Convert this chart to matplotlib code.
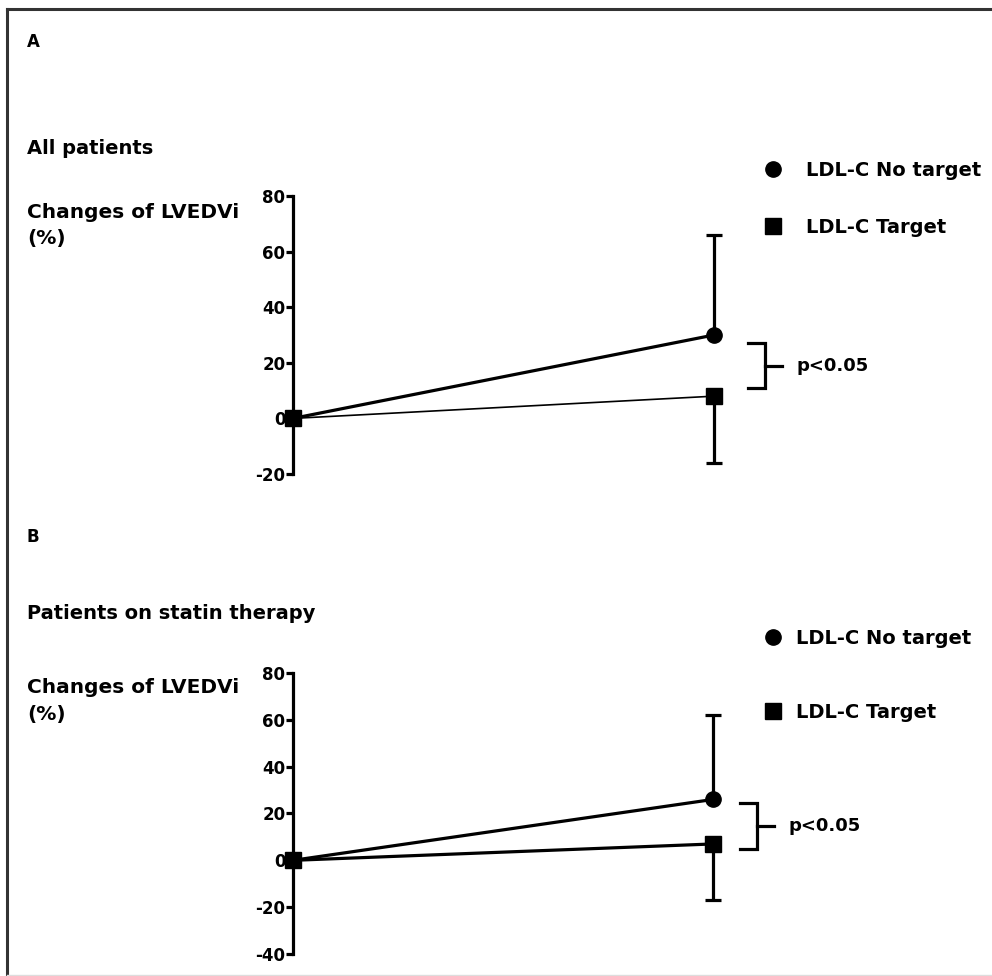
import matplotlib
matplotlib.use("Agg")
import matplotlib.pyplot as plt
from matplotlib.lines import Line2D

# data (% change of LVEDVi, baseline -> follow-up)
timepoints = [0, 1]
labels = ["LDL-C No target", "LDL-C Target"]

a_notarget = [0, 30]
a_notarget_upper = 66      # top of error bar at follow-up
a_target = [0, 8]
a_target_lower = -16       # bottom of error bar at follow-up

b_notarget = [0, 26]
b_notarget_upper = 62
b_target = [0, 7]
b_target_lower = -17

a_ticks = [-20, 0, 20, 40, 60, 80]
b_ticks = [-40, -20, 0, 20, 40, 60, 80]

W, H = 992, 976
plt.rcParams["font.family"] = ["DejaVu Sans"]
plt.rcParams["font.weight"] = "bold"
plt.rcParams["axes.unicode_minus"] = False
fig = plt.figure(figsize=(W / 100, H / 100), dpi=100)


def px_axes(left, right, top, bottom):
    # build axes from pixel positions (top-left origin)
    return fig.add_axes([left / W, 1 - bottom / H, (right - left) / W, (bottom - top) / H])


def ftext(x, y, s, size, **kw):
    fig.text(x / W, 1 - y / H, s, fontsize=size, fontweight="bold", va="baseline", ha="left", **kw)


def draw_panel(ax, nt, nt_up, tg, tg_low, ticks, tg_lw, brk_x, brk_y, ptext_x):
    ax.plot(timepoints, nt, color="black", lw=2.3, marker="o", ms=11, clip_on=False, zorder=4)
    ax.plot(timepoints, tg, color="black", lw=tg_lw, marker="s", ms=12, clip_on=False, zorder=5)
    # one-sided error bars (GraphPad style)
    ax.vlines(timepoints[1], nt[1], nt_up, color="black", lw=2.3, clip_on=False, zorder=3)
    ax.vlines(timepoints[1], tg_low, tg[1], color="black", lw=2.3, clip_on=False, zorder=3)
    ax.plot([timepoints[1]], [nt_up], marker="_", ms=12, mew=2.3, color="black", clip_on=False)
    ax.plot([timepoints[1]], [tg_low], marker="_", ms=12, mew=2.3, color="black", clip_on=False)

    # significance bracket
    x0, x1, x2 = brk_x
    y0, y1 = brk_y
    ax.plot([x0, x1, x1, x0], [y0, y0, y1, y1], color="black", lw=2.3, clip_on=False,
            solid_joinstyle="miter")
    ym = (y0 + y1) / 2
    ax.plot([x1, x2], [ym, ym], color="black", lw=2.3, clip_on=False)
    ax.text(ptext_x, ym, "p<0.05", fontsize=13, fontweight="bold", va="center", ha="left")

    ax.set_xlim(0, 1)
    ax.set_ylim(ticks[0], ticks[-1])
    ax.set_yticks(ticks)
    for side in ["top", "right", "bottom"]:
        ax.spines[side].set_visible(False)
    ax.spines["left"].set_linewidth(2.3)
    ax.tick_params(axis="y", length=5, width=2.3, pad=0.5, labelsize=12)
    ax.tick_params(axis="x", bottom=False, labelbottom=False)
    ax.patch.set_alpha(0)


# panel A
axA = px_axes(293, 714, 196, 474)
draw_panel(axA, a_notarget, a_notarget_upper, a_target, a_target_lower, a_ticks, 1.2,
           (1.081, 1.121, 1.162), (27, 11), 1.195)
# panel B
axB = px_axes(293, 713, 673, 954)
draw_panel(axB, b_notarget, b_notarget_upper, b_target, b_target_lower, b_ticks, 2.3,
           (1.064, 1.105, 1.145), (24.5, 5), 1.179)

handles = [Line2D([], [], color="black", marker="o", ms=11, ls="none"),
           Line2D([], [], color="black", marker="s", ms=11, ls="none")]
axA.legend(handles, labels, loc="upper left", bbox_to_anchor=(763 / W, 1 - 161 / H),
           bbox_transform=fig.transFigure, frameon=False, borderpad=0, borderaxespad=0,
           handlelength=1.0, handletextpad=1.22, labelspacing=1.95,
           prop={"size": 14, "weight": "bold"})
axB.legend(handles, labels, loc="upper left", bbox_to_anchor=(763 / W, 1 - 629 / H),
           bbox_transform=fig.transFigure, frameon=False, borderpad=0, borderaxespad=0,
           handlelength=1.0, handletextpad=0.7, labelspacing=2.82,
           prop={"size": 14, "weight": "bold"})

# text labels
ftext(27, 47, "A", 12)
ftext(27, 154, "All patients", 14)
ftext(27, 218, "Changes of LVEDVi", 14.5)
ftext(27, 244, "(%)", 14.5)
ftext(27, 542, "B", 12)
ftext(27, 619, "Patients on statin therapy", 14)
ftext(27, 693, "Changes of LVEDVi", 14.5)
ftext(27, 720, "(%)", 14.5)

# outer frame (top and left edge visible)
fig.add_artist(Line2D([7 / W, 1], [1 - 9 / H, 1 - 9 / H], transform=fig.transFigure,
                      color="#333333", lw=2.2))
fig.add_artist(Line2D([7 / W, 7 / W], [1 - 9 / H, 0], transform=fig.transFigure,
                      color="#333333", lw=2.2))
fig.add_artist(Line2D([7 / W, 1], [1 - 975 / H, 1 - 975 / H], transform=fig.transFigure,
                      color="#dddddd", lw=1))

fig.savefig("out.png", dpi=100)
